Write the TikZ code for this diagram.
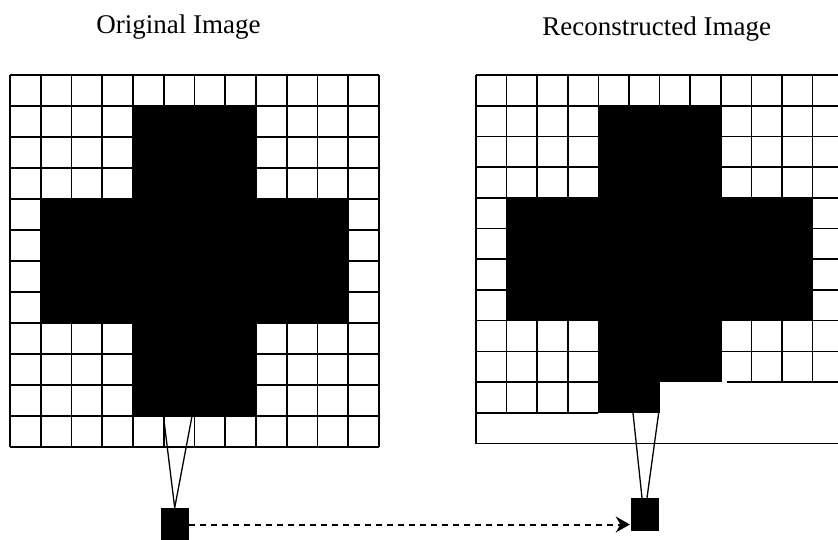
\documentclass[tikz,border=0pt]{standalone}
\usepackage{fontspec}
\setmainfont{Liberation Serif}
\usetikzlibrary{arrows.meta}
\begin{document}
\begin{tikzpicture}[x=1pt,y=-1pt,
  gridline/.style={line width=1.6pt},
  funnel/.style={line width=1.3pt},
  title/.style={font=\fontsize{27}{30}\selectfont, anchor=base, inner sep=0pt},
  pix/.style={fill=black, draw=none, minimum width=28pt, minimum height=33pt, inner sep=0pt},
  link/.style={line width=2pt, dash pattern=on 6pt off 5pt, shorten >=1pt, -{Stealth[length=14pt,width=16pt]}}]
\clip (0,0) rectangle (838,539);
\node[title] (t1) at (178.5,33) {Original Image};
\node[title] (t2) at (656.7,35) {Reconstructed Image};
% left grid
\begin{scope}[shift={(10,75)},x=30.75pt,y=-31pt]
  \foreach \i in {0,...,12} \draw[gridline] (\i,0) -- (\i,12);
  \foreach \j in {0,...,12} \draw[gridline] (0,\j) -- (12,\j);
  \fill (4,1) rectangle (8,11);
  \fill (1,4) rectangle (11,8);
  \coordinate (l1) at (4.99,11);
  \coordinate (l2) at (5.92,11);
\end{scope}
% right grid
\begin{scope}[shift={(476,75)},x=30.6pt,y=-30.7pt]
  \foreach \i in {0,...,12} \draw[gridline] (\i,0) -- (\i,8);
  \foreach \j in {0,...,8} \draw[gridline] (0,\j) -- (12,\j);
  \foreach \i in {0,...,4} \draw[gridline] (\i,8) -- (\i,11);
  \foreach \j in {9,10,11} \draw[gridline] (0,\j) -- (4,\j);
  \foreach \i in {8,...,12} \draw[gridline] (\i,8) -- (\i,10);
  \draw[gridline] (8,9) -- (12,9);
  \draw[gridline] (8.2,10) -- (12,10);
  \draw[gridline] (0,11) -- (0,12) -- (12,12);
  \fill (4,1) rectangle (8,10);
  \fill (1,4) rectangle (11,8);
  \fill (4,10) rectangle (6,11);
  \coordinate (r1) at (5.13,11);
  \coordinate (r2) at (5.97,11);
\end{scope}
\node[pix] (s1) at (174.7,524.5) {};
\node[pix] (s2) at (645,514.5) {};
\draw[funnel] (l1) -- (s1.north) -- (l2);
\draw[funnel] (r1) -- ([xshift=-3pt]s2.north);
\draw[funnel] (r2) -- ([xshift=2pt]s2.north);
\draw[link] (s1.east) -- (s1.east -| s2.west);
\end{tikzpicture}
\end{document}
